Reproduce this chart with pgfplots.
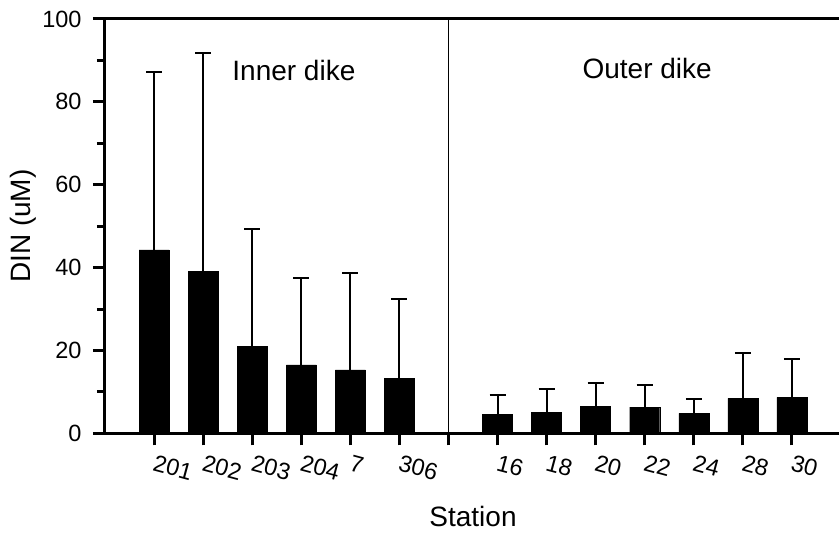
\documentclass[border=0pt]{standalone}
\usepackage{pgfplots}
\pgfplotsset{compat=1.18}
\usepackage{fontspec}
\setmainfont{Liberation Sans}
\begin{document}
\begin{tikzpicture}
\begin{axis}[
  at={(0pt,0pt)}, anchor=south west,
  scale only axis, width=736pt, height=414.3pt,
  xmin=0, xmax=15, ymin=0, ymax=100,
  axis x line*=box, axis y line*=left,
  axis line style={line width=3pt, line cap=rect},
  every tick/.style={black, line width=3pt},
  tick align=outside,
  major tick length=12pt, minor tick length=8pt,
  xtick pos=bottom, ytick pos=left,
  xtick={1,2,3,4,5,6,7,8,9,10,11,12,13,14},
  xticklabels={201,202,203,204,7,306,,16,18,20,22,24,28,30},
  ytick={0,20,40,60,80,100},
  minor ytick={10,30,50,70,90},
  /pgf/number format/assume math mode=true,
  tick label style={font=\fontsize{23.5}{26}\selectfont},
  xticklabel style={rotate=-15, anchor=north west, xshift=1pt, yshift=-5pt},
  yticklabel style={xshift=-8pt},
  xlabel={Station},
  ylabel={DIN (uM)},
  label style={font=\fontsize{28}{30}\selectfont},
  xlabel style={at={(axis description cs:0.5,-0.2003)}, anchor=center},
  ylabel style={at={(axis description cs:-0.1114,0.5)}, anchor=center},
  clip=false,
]
\addplot[ybar, bar width=30pt, bar shift=0pt, fill=black, draw=black,
  error bars/.cd, y dir=plus, y explicit,
  error bar style={line width=2pt, black},
  error mark options={rotate=90, line width=2pt, mark size=8pt, black}]
  table[x=x, y=y, y error=e] {
x y e
1 44.3 42.9
2 39.1 52.8
3 21.0 28.4
4 16.5 20.9
5 15.3 23.5
6 13.2 19.1
8 4.6 4.6
9 5.1 5.6
10 6.5 5.6
11 6.3 5.3
12 4.8 3.5
13 8.4 11.0
14 8.7 9.2
};
\draw[line width=1.5pt] (axis cs:7,0) -- (axis cs:7,100);
\node[anchor=base, font=\fontsize{28}{30}\selectfont] at (axis cs:3.85,85.1) {Inner dike};
\node[anchor=base, font=\fontsize{28}{30}\selectfont] at (axis cs:11.05,85.6) {Outer dike};
\end{axis}
\pgfresetboundingbox
\path[use as bounding box] (-105pt,-99.7pt) rectangle (734pt,433.3pt);
\end{tikzpicture}
\end{document}
